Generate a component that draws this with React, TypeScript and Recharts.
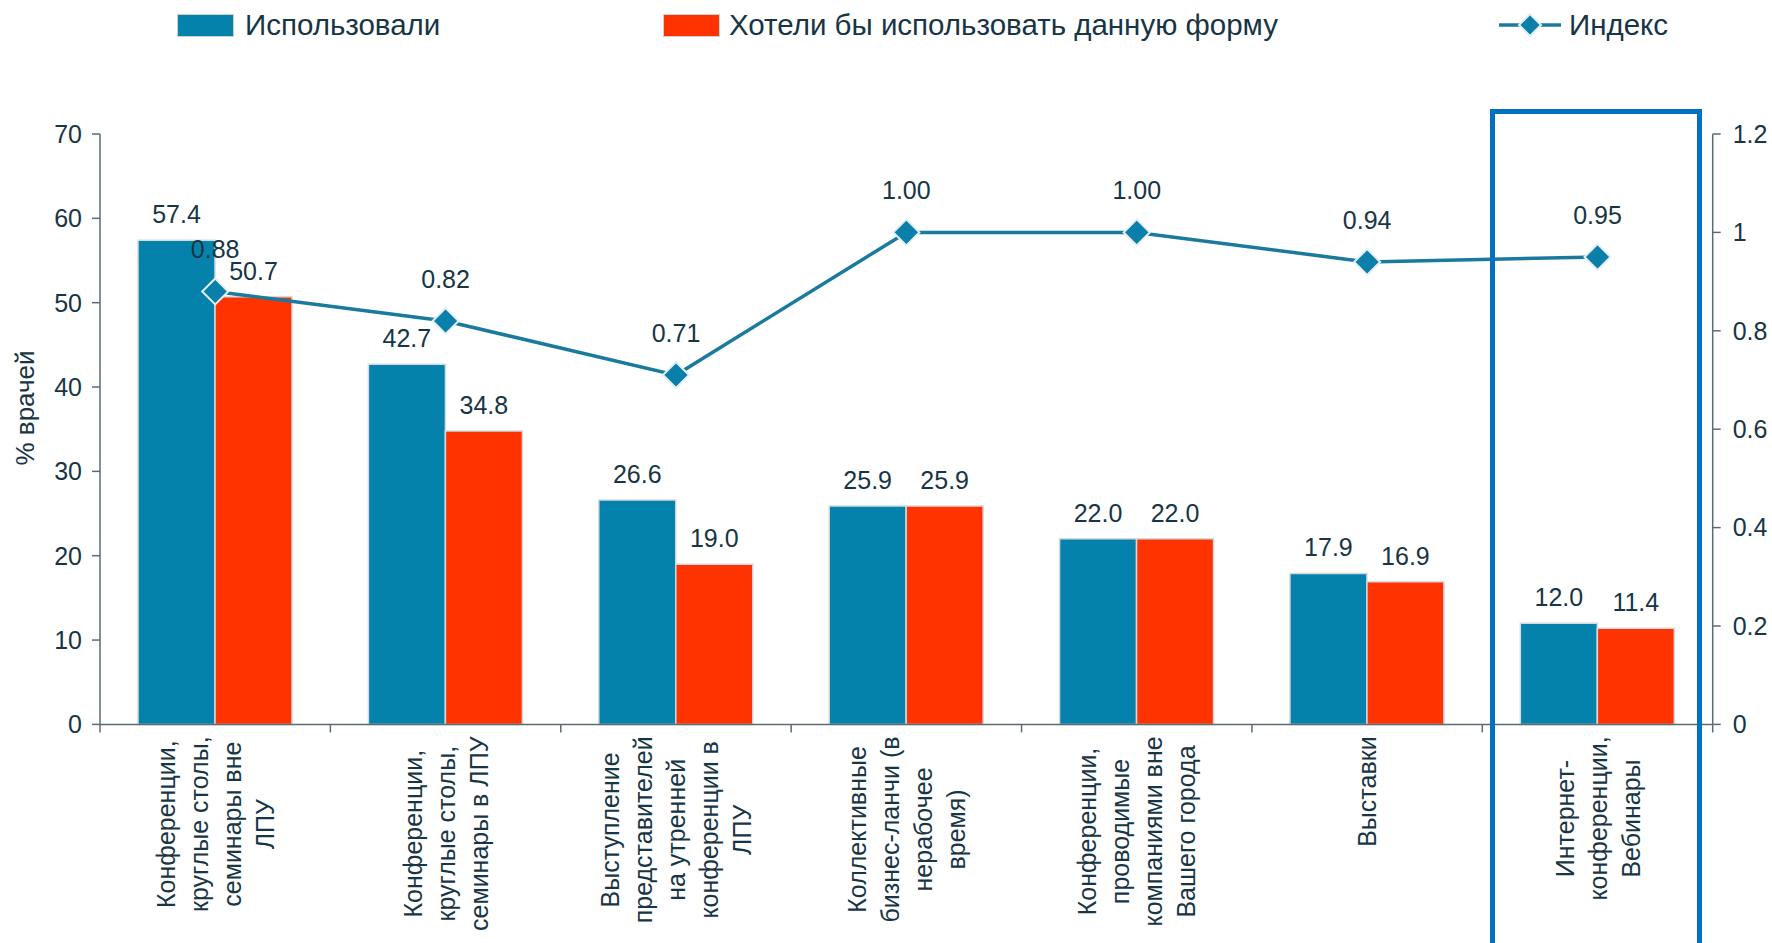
import React from 'react';
import { ComposedChart, Bar, Line, XAxis, YAxis, LabelList } from 'recharts';

const categories = [
  'Конференции,\nкруглые столы,\nсеминары вне\nЛПУ',
  'Конференции,\nкруглые столы,\nсеминары в ЛПУ',
  'Выступление\nпредставителей\nна утренней\nконференции в\nЛПУ',
  'Коллективные\nбизнес-ланчи (в\nнерабочее\nвремя)',
  'Конференции,\nпроводимые\nкомпаниями вне\nВашего города',
  'Выставки',
  'Интернет-\nконференции,\nВебинары',
];
const usedValues = [57.4, 42.7, 26.6, 25.9, 22.0, 17.9, 12.0];
const wantedValues = [50.7, 34.8, 19.0, 25.9, 22.0, 16.9, 11.4];
const indexValues = [0.88, 0.82, 0.71, 1.0, 1.0, 0.94, 0.95];
const leftTicks = [0, 10, 20, 30, 40, 50, 60, 70];
const rightTicks = [0, 0.2, 0.4, 0.6, 0.8, 1, 1.2];

const seriesNames = {
  used: 'Использовали',
  wanted: 'Хотели бы использовать данную форму',
  index: 'Индекс',
};

const data = categories.map((c, i) => ({
  category: c,
  used: usedValues[i],
  wanted: wantedValues[i],
  index: indexValues[i],
}));

const FONT = '"Liberation Sans", Arial, sans-serif';
const TEXT = '#173545';
const AXIS = '#5C6B72';
const BLUE = '#0582AC';
const RED = '#FF3300';
const LINE = '#1A7A9E';

const W = 1772;
const H = 943;
const PLOT_LEFT = 100;
const PLOT_RIGHT = 1712.7;
const PLOT_TOP = 134;
const PLOT_BOTTOM = 724.4;
const BAND = (PLOT_RIGHT - PLOT_LEFT) / categories.length;

let ctx: CanvasRenderingContext2D | null = null;
function measure(s: string, font: string): number {
  if (!ctx && typeof document !== 'undefined') {
    ctx = document.createElement('canvas').getContext('2d');
  }
  if (!ctx) return s.length * 13;
  ctx.font = font;
  return ctx.measureText(s).width;
}

const CatTick = (props: any) => {
  const { x, y, payload, index } = props;
  const lines: string[] = String(payload.value).split('\n');
  const fs = 25;
  const lh = 33;
  const maxW = Math.max(...lines.map((l) => measure(l, `${fs}px "Liberation Sans"`)));
  const cy = y + 12 + maxW / 2;
  const n = lines.length;
  const left = x - BAND / 2;
  return (
    <g>
      <line x1={left} y1={y} x2={left} y2={y + 8} stroke={AXIS} strokeWidth={1.5} />
      {index === categories.length - 1 && (
        <line x1={x + BAND / 2} y1={y} x2={x + BAND / 2} y2={y + 8} stroke={AXIS} strokeWidth={1.5} />
      )}
      {lines.map((l, i) => {
        const lx = x + (i - (n - 1) / 2) * lh;
        return (
          <text
            key={i}
            x={0}
            y={0}
            transform={`translate(${lx}, ${cy}) rotate(-90)`}
            textAnchor="middle"
            dominantBaseline="central"
            fontSize={fs}
            fontFamily={FONT}
            fill={TEXT}
          >
            {l}
          </text>
        );
      })}
    </g>
  );
};

const Diamond = (props: any) => {
  const { cx, cy, index } = props;
  if (cx == null || cy == null) return <g key={index} />;
  const r = 13;
  return (
    <path
      key={index}
      d={`M${cx},${cy - r} L${cx + r},${cy} L${cx},${cy + r} L${cx - r},${cy} Z`}
      fill="#0A7FAA"
      stroke="#E4EFF3"
      strokeWidth={2}
    />
  );
};

const legendText: React.CSSProperties = {
  position: 'absolute',
  top: 25,
  transform: 'translateY(-50%)',
  fontSize: 29.5,
  fontFamily: FONT,
  color: TEXT,
  whiteSpace: 'nowrap',
  lineHeight: 1,
};

export default function App() {
  return (
    <div style={{ position: 'absolute', left: 0, top: 0, width: W, height: H, background: '#fff', overflow: 'hidden' }}>
      <ComposedChart
        width={W}
        height={H}
        data={data}
        margin={{ top: PLOT_TOP, right: 0, bottom: 0, left: 0 }}
        barCategoryGap="16.5%"
        barGap={0}
      >
        <XAxis
          dataKey="category"
          xAxisId={0}
          height={H - PLOT_BOTTOM}
          interval={0}
          tick={<CatTick />}
          tickLine={false}
          tickSize={0}
          tickMargin={0}
          axisLine={{ stroke: AXIS, strokeWidth: 1.5 }}
        />
        <YAxis
          yAxisId="left"
          orientation="left"
          width={PLOT_LEFT}
          domain={[0, 70]}
          ticks={leftTicks}
          interval={0}
          tickSize={8}
          tickMargin={10}
          tick={{ fontSize: 25, fontFamily: FONT, fill: TEXT }}
          tickLine={{ stroke: AXIS, strokeWidth: 1.5 }}
          axisLine={{ stroke: AXIS, strokeWidth: 1.5 }}
          label={{
            content: () => (
              <text
                x={0}
                y={0}
                transform="translate(25, 408) rotate(-90)"
                textAnchor="middle"
                dominantBaseline="central"
                fontSize={26}
                fontFamily={FONT}
                fill={TEXT}
              >
                % врачей
              </text>
            ),
          }}
        />
        <YAxis
          yAxisId="right"
          orientation="right"
          width={W - PLOT_RIGHT}
          domain={[0, 1.2]}
          ticks={rightTicks}
          interval={0}
          tickSize={8}
          tickMargin={12}
          tick={{ fontSize: 25, fontFamily: FONT, fill: TEXT }}
          tickLine={{ stroke: AXIS, strokeWidth: 1.5 }}
          axisLine={{ stroke: AXIS, strokeWidth: 1.5 }}
        />
        <Bar
          yAxisId="left"
          dataKey="used"
          name={seriesNames.used}
          fill={BLUE}
          stroke="#D4DADD"
          strokeWidth={1.5}
          isAnimationActive={false}
        >
          <LabelList
            dataKey="used"
            position="top"
            offset={17}
            formatter={(v: any) => Number(v).toFixed(1)}
            style={{ fontSize: 25, fontFamily: FONT, fill: TEXT }}
          />
        </Bar>
        <Bar
          yAxisId="left"
          dataKey="wanted"
          name={seriesNames.wanted}
          fill={RED}
          stroke="#D4DADD"
          strokeWidth={1.5}
          isAnimationActive={false}
        >
          <LabelList
            dataKey="wanted"
            position="top"
            offset={17}
            formatter={(v: any) => Number(v).toFixed(1)}
            style={{ fontSize: 25, fontFamily: FONT, fill: TEXT }}
          />
        </Bar>
        <Line
          yAxisId="right"
          dataKey="index"
          name={seriesNames.index}
          stroke={LINE}
          strokeWidth={3.5}
          dot={Diamond}
          activeDot={false}
          isAnimationActive={false}
        >
          <LabelList
            dataKey="index"
            position="top"
            offset={33}
            formatter={(v: any) => Number(v).toFixed(2)}
            style={{ fontSize: 25, fontFamily: FONT, fill: TEXT }}
          />
        </Line>
      </ComposedChart>

      {/* Legend */}
      <div style={{ position: 'absolute', left: 177, top: 14, width: 55, height: 21, background: BLUE, border: '1px solid #C9D3D7' }} />
      <div style={{ ...legendText, left: 245 }}>{seriesNames.used}</div>
      <div style={{ position: 'absolute', left: 663, top: 14, width: 55, height: 21, background: RED, border: '1px solid #C9D3D7' }} />
      <div style={{ ...legendText, left: 729 }}>{seriesNames.wanted}</div>
      <svg style={{ position: 'absolute', left: 1495, top: 10 }} width={70} height={30}>
        <line x1={4} y1={15} x2={66} y2={15} stroke={LINE} strokeWidth={3.5} />
        <path d="M35,4 L46,15 L35,26 L24,15 Z" fill="#0A7FAA" stroke="#E4EFF3" strokeWidth={2} />
      </svg>
      <div style={{ ...legendText, left: 1569 }}>{seriesNames.index}</div>

      {/* Highlight box */}
      <div
        style={{
          position: 'absolute',
          left: 1490,
          top: 109,
          width: 212,
          height: 900,
          border: '5px solid #0070C0',
          boxSizing: 'border-box',
          pointerEvents: 'none',
        }}
      />
    </div>
  );
}
